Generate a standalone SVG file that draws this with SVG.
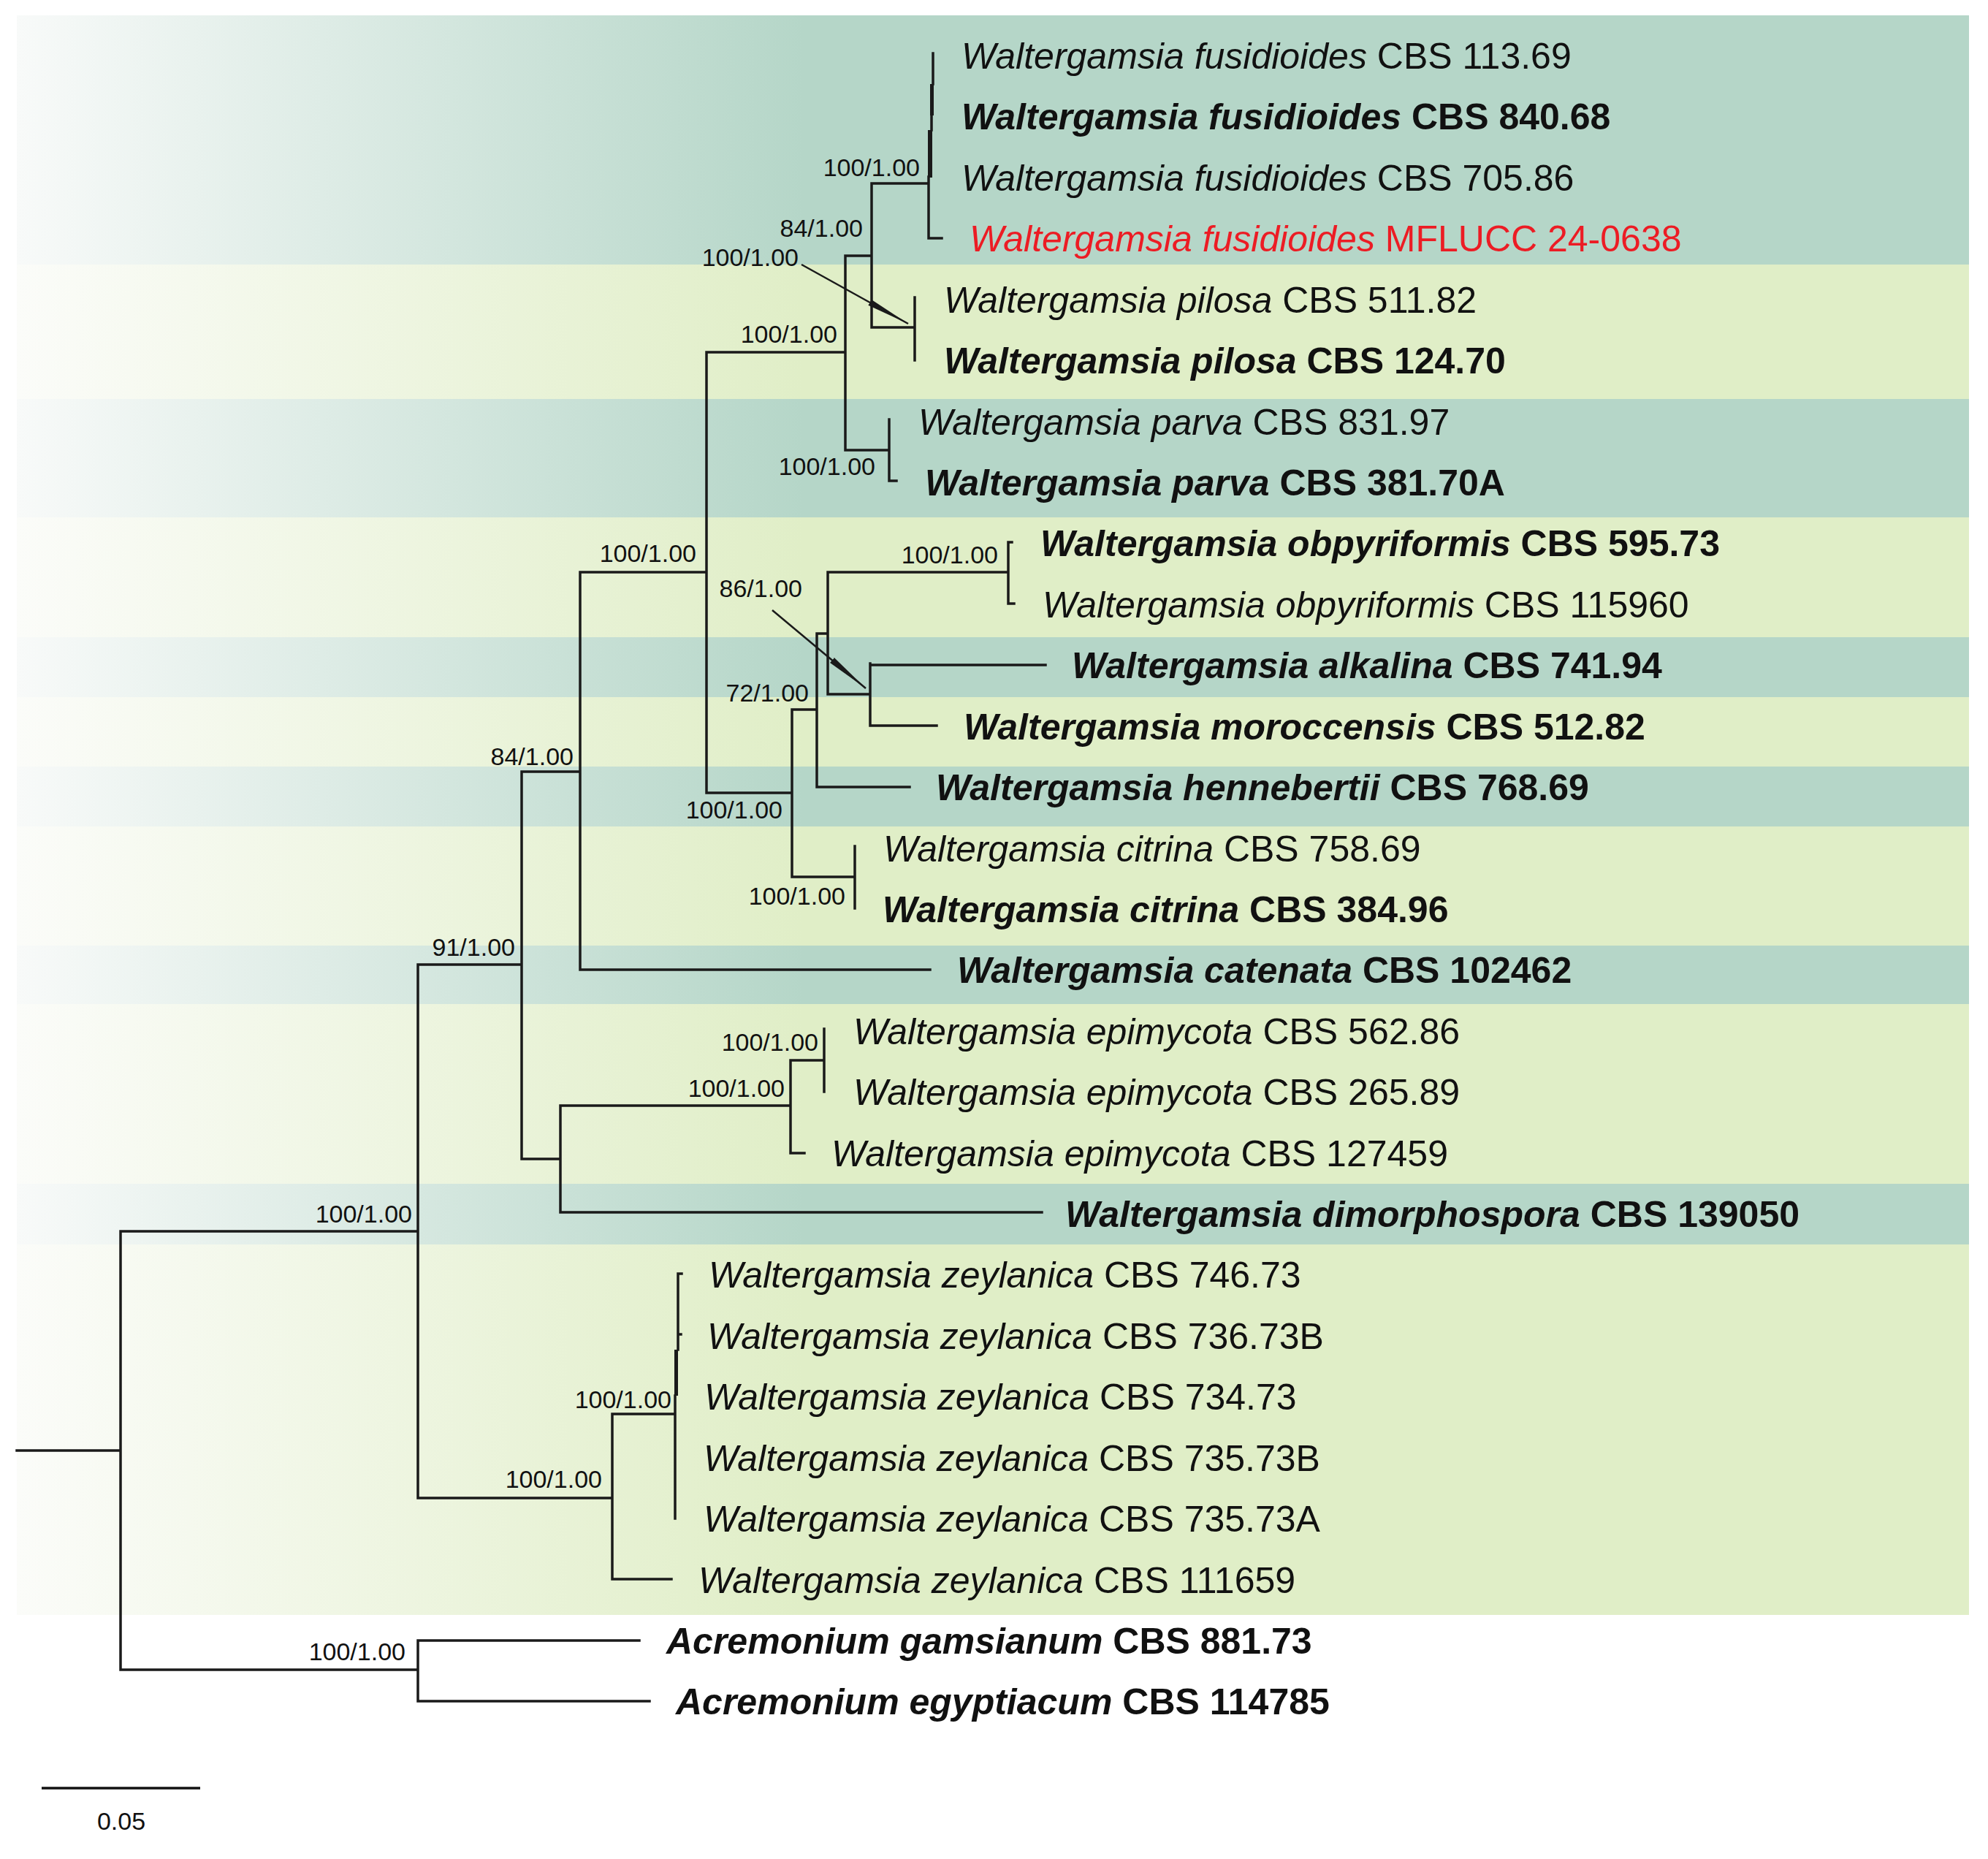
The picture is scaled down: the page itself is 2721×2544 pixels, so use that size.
<svg xmlns="http://www.w3.org/2000/svg" width="2721" height="2544" viewBox="0 0 2721 2544">
<defs>
<linearGradient id="gT" gradientUnits="userSpaceOnUse" x1="23" y1="0" x2="1100" y2="0">
<stop offset="0" stop-color="#f8faf9"/><stop offset="1" stop-color="#b5d6c8"/>
</linearGradient>
<linearGradient id="gY" gradientUnits="userSpaceOnUse" x1="23" y1="0" x2="1100" y2="0">
<stop offset="0" stop-color="#fbfcf9"/><stop offset="1" stop-color="#e0eec7"/>
</linearGradient>
<marker id="ah" markerUnits="userSpaceOnUse" markerWidth="60" markerHeight="10" viewBox="0 0 60 10" refX="60" refY="5" orient="auto">
<path d="M0,0.5 L60,5 L0,9.5 Z" fill="#1a1a1a"/>
</marker>
<style>
.t{font-family:"Liberation Sans",Arial,sans-serif;font-size:50px;fill:#111}
.b{font-weight:bold}
.i{font-style:italic}
.red{fill:#ec1c24}
.s{font-family:"Liberation Sans",Arial,sans-serif;font-size:34px;fill:#111;text-anchor:end}
.br{fill:none;stroke:#1a1a1a;stroke-width:3.5;stroke-linecap:square}
.teal{fill:url(#gT)}
.yel{fill:url(#gY)}
</style>
</defs>
<rect width="2721" height="2544" fill="#ffffff"/>
<g id="bands">
<rect class="teal" x="23" y="21" width="2672" height="341"/>
<rect class="yel" x="23" y="362" width="2672" height="184"/>
<rect class="teal" x="23" y="546" width="2672" height="162"/>
<rect class="yel" x="23" y="708" width="2672" height="164"/>
<rect class="teal" x="23" y="872" width="2672" height="82"/>
<rect class="yel" x="23" y="954" width="2672" height="95"/>
<rect class="teal" x="23" y="1049" width="2672" height="82"/>
<rect class="yel" x="23" y="1131" width="2672" height="163"/>
<rect class="teal" x="23" y="1294" width="2672" height="80"/>
<rect class="yel" x="23" y="1374" width="2672" height="246"/>
<rect class="teal" x="23" y="1620" width="2672" height="83"/>
<rect class="yel" x="23" y="1703" width="2672" height="507"/>
</g>
<g id="connectors">
<path class="br" d="M23,1985 H165 M165,1685 V2285 M165,1685 H572 M165,2285 H572
M572,2245 V2328 M572,2245 H875 M572,2328 H889
M572,1320 V2050 M572,1320 H714 M572,2050 H838
M838,1935 V2161 M838,1935 H924 M838,2161 H919 M924,1910 V2078 M928,1743 V1847 M928,1743 H933 M928,1826 H932
M714,1056 V1586 M714,1056 H794 M714,1586 H767
M767,1513 V1659 M767,1659 H1426 M767,1513 H1082
M1082,1451 V1578 M1082,1578 H1101 M1082,1451 H1128 M1128,1408 V1494
M794,783 V1327 M794,1327 H1273 M794,783 H967
M967,482 V1085 M967,482 H1157 M967,1085 H1084
M1157,350 V616 M1157,350 H1193 M1157,616 H1217 M1217,574 V658 H1227
M1193,251 V448 M1193,448 H1252 M1252,407 V493
M1193,251 H1271 M1271,242 V326 H1289 M1275,158 V178 M1277,73 V115
M1084,971 V1200 M1084,1200 H1170 M1170,1158 V1243
M1084,971 H1118 M1118,867 V1077 M1118,1077 H1245 M1118,867 H1133
M1133,783 V950 M1133,783 H1380 M1380,742 V826 M1380,742 H1385 M1380,826 H1388
M1133,950 H1191 M1191,908 V993 M1191,910 H1431 M1191,993 H1282"/>
<rect x="1270" y="178" width="6" height="65" fill="#1a1a1a"/>
<rect x="1273" y="115" width="5" height="43" fill="#1a1a1a"/>
<rect x="923" y="1847" width="5" height="63" fill="#1a1a1a"/>
<path d="M1097,362 L1243,443" stroke="#1a1a1a" stroke-width="2.5" fill="none" marker-end="url(#ah)"/>
<path d="M1057,835 L1185,942" stroke="#1a1a1a" stroke-width="2.5" fill="none" marker-end="url(#ah)"/>
</g>
<g id="supports">
<text class="s" x="1259" y="241">100/1.00</text>
<text class="s" x="1181" y="324">84/1.00</text>
<text class="s" x="1093" y="364">100/1.00</text>
<text class="s" x="1146" y="469">100/1.00</text>
<text class="s" x="1198" y="650">100/1.00</text>
<text class="s" x="953" y="769">100/1.00</text>
<text class="s" x="1366" y="771">100/1.00</text>
<text class="s" x="1098" y="817">86/1.00</text>
<text class="s" x="1107" y="960">72/1.00</text>
<text class="s" x="785" y="1047">84/1.00</text>
<text class="s" x="1071" y="1120">100/1.00</text>
<text class="s" x="1157" y="1238">100/1.00</text>
<text class="s" x="705" y="1308">91/1.00</text>
<text class="s" x="1120" y="1438">100/1.00</text>
<text class="s" x="1074" y="1501">100/1.00</text>
<text class="s" x="564" y="1673">100/1.00</text>
<text class="s" x="919" y="1927">100/1.00</text>
<text class="s" x="824" y="2036">100/1.00</text>
<text class="s" x="555" y="2272">100/1.00</text>
</g>
<g id="taxa">
<g id="t01"><text class="t" x="1316" y="94"><tspan class="i">Waltergamsia fusidioides</tspan> CBS 113.69</text></g>
<g id="t02"><text class="t b" x="1316" y="177"><tspan class="i">Waltergamsia fusidioides</tspan> CBS 840.68</text></g>
<g id="t03"><text class="t" x="1316" y="261"><tspan class="i">Waltergamsia fusidioides</tspan> CBS 705.86</text></g>
<g id="t04"><text class="t red" x="1327" y="344"><tspan class="i">Waltergamsia fusidioides</tspan> MFLUCC 24-0638</text></g>
<g id="t05"><text class="t" x="1292" y="428"><tspan class="i">Waltergamsia pilosa</tspan> CBS 511.82</text></g>
<g id="t06"><text class="t b" x="1292" y="511"><tspan class="i">Waltergamsia pilosa</tspan> CBS 124.70</text></g>
<g id="t07"><text class="t" x="1257" y="595"><tspan class="i">Waltergamsia parva</tspan> CBS 831.97</text></g>
<g id="t08"><text class="t b" x="1266" y="678"><tspan class="i">Waltergamsia parva</tspan> CBS 381.70A</text></g>
<g id="t09"><text class="t b" x="1424" y="761"><tspan class="i">Waltergamsia obpyriformis</tspan> CBS 595.73</text></g>
<g id="t10"><text class="t" x="1427" y="845"><tspan class="i">Waltergamsia obpyriformis</tspan> CBS 115960</text></g>
<g id="t11"><text class="t b" x="1467" y="928"><tspan class="i">Waltergamsia alkalina</tspan> CBS 741.94</text></g>
<g id="t12"><text class="t b" x="1319" y="1012"><tspan class="i">Waltergamsia moroccensis</tspan> CBS 512.82</text></g>
<g id="t13"><text class="t b" x="1281" y="1095"><tspan class="i">Waltergamsia hennebertii</tspan> CBS 768.69</text></g>
<g id="t14"><text class="t" x="1209" y="1179"><tspan class="i">Waltergamsia citrina</tspan> CBS 758.69</text></g>
<g id="t15"><text class="t b" x="1208" y="1262"><tspan class="i">Waltergamsia citrina</tspan> CBS 384.96</text></g>
<g id="t16"><text class="t b" x="1310" y="1345"><tspan class="i">Waltergamsia catenata</tspan> CBS 102462</text></g>
<g id="t17"><text class="t" x="1168" y="1429"><tspan class="i">Waltergamsia epimycota</tspan> CBS 562.86</text></g>
<g id="t18"><text class="t" x="1168" y="1512"><tspan class="i">Waltergamsia epimycota</tspan> CBS 265.89</text></g>
<g id="t19"><text class="t" x="1138" y="1596"><tspan class="i">Waltergamsia epimycota</tspan> CBS 127459</text></g>
<g id="t20"><text class="t b" x="1458" y="1679"><tspan class="i">Waltergamsia dimorphospora</tspan> CBS 139050</text></g>
<g id="t21"><text class="t" x="970" y="1762"><tspan class="i">Waltergamsia zeylanica</tspan> CBS 746.73</text></g>
<g id="t22"><text class="t" x="968" y="1846"><tspan class="i">Waltergamsia zeylanica</tspan> CBS 736.73B</text></g>
<g id="t23"><text class="t" x="964" y="1929"><tspan class="i">Waltergamsia zeylanica</tspan> CBS 734.73</text></g>
<g id="t24"><text class="t" x="963" y="2013"><tspan class="i">Waltergamsia zeylanica</tspan> CBS 735.73B</text></g>
<g id="t25"><text class="t" x="963" y="2096"><tspan class="i">Waltergamsia zeylanica</tspan> CBS 735.73A</text></g>
<g id="t26"><text class="t" x="956" y="2180"><tspan class="i">Waltergamsia zeylanica</tspan> CBS 111659</text></g>
<g id="t27"><text class="t b" x="912" y="2263"><tspan class="i">Acremonium gamsianum</tspan> CBS 881.73</text></g>
<g id="t28"><text class="t b" x="925" y="2346"><tspan class="i">Acremonium egyptiacum</tspan> CBS 114785</text></g>
</g>
<g id="scalebar">
<path d="M57,2447 H274" stroke="#111" stroke-width="3.5"/>
<text x="166" y="2504" font-family="Liberation Sans, Arial, sans-serif" font-size="34" fill="#111" text-anchor="middle">0.05</text>
</g>
</svg>
